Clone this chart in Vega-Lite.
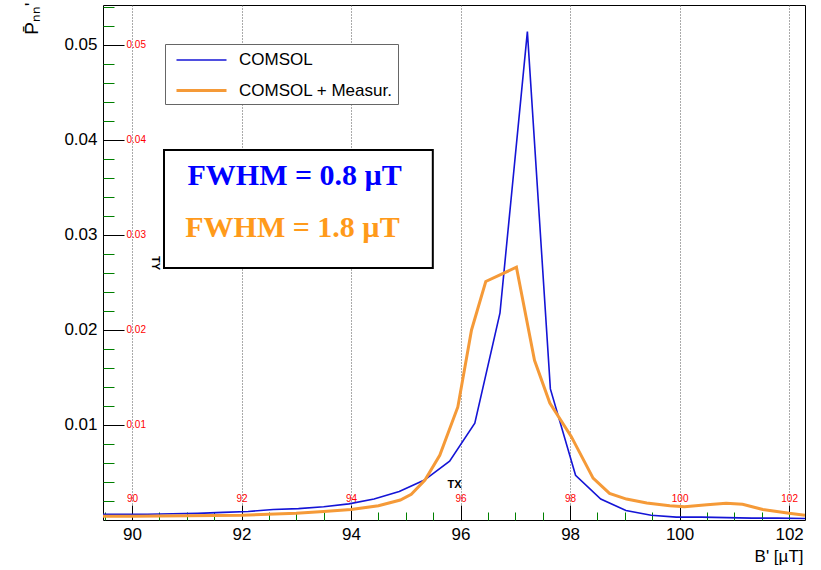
{
  "$schema": "https://vega.github.io/schema/vega-lite/v6.json",
  "autosize": {"type": "none"},
  "padding": {"left": 103, "top": 5, "right": 16, "bottom": 50},
  "width": 702,
  "height": 515,
  "background": "white",
  "config": {
    "view": {"stroke": "#000", "strokeWidth": 1},
    "font": "Liberation Sans",
    "axis": {"labelFont": "Liberation Sans", "titleFont": "Liberation Sans", "labelColor": "#000", "titleColor": "#000", "domain": false, "grid": false},
    "legend": {"orient": "none", "legendX": 62, "legendY": 39, "title": null, "strokeColor": "#666", "fillColor": "white", "padding": 5, "symbolType": "M-2.5,0H2.5", "symbolSize": 400, "symbolOffset": 20, "labelFont": "Liberation Sans", "labelFontSize": 17, "labelOffset": 26, "rowPadding": 11, "labelColor": "#000"}
  },
  "datasets": {
    "curves": [
      {"B": 89.36, "P": 0.0006, "series": "COMSOL"},
      {"B": 89.82, "P": 0.0006, "series": "COMSOL"},
      {"B": 90.28, "P": 0.0006, "series": "COMSOL"},
      {"B": 90.74, "P": 0.00065, "series": "COMSOL"},
      {"B": 91.2, "P": 0.0007, "series": "COMSOL"},
      {"B": 91.66, "P": 0.0008, "series": "COMSOL"},
      {"B": 92.12, "P": 0.0009, "series": "COMSOL"},
      {"B": 92.58, "P": 0.0011, "series": "COMSOL"},
      {"B": 93.04, "P": 0.0012, "series": "COMSOL"},
      {"B": 93.5, "P": 0.0014, "series": "COMSOL"},
      {"B": 93.96, "P": 0.0017, "series": "COMSOL"},
      {"B": 94.42, "P": 0.0022, "series": "COMSOL"},
      {"B": 94.88, "P": 0.003, "series": "COMSOL"},
      {"B": 95.34, "P": 0.0042, "series": "COMSOL"},
      {"B": 95.8, "P": 0.0062, "series": "COMSOL"},
      {"B": 96.26, "P": 0.0102, "series": "COMSOL"},
      {"B": 96.72, "P": 0.0218, "series": "COMSOL"},
      {"B": 97.22, "P": 0.0514, "series": "COMSOL"},
      {"B": 97.64, "P": 0.0138, "series": "COMSOL"},
      {"B": 98.1, "P": 0.0047, "series": "COMSOL"},
      {"B": 98.56, "P": 0.0022, "series": "COMSOL"},
      {"B": 99.02, "P": 0.001, "series": "COMSOL"},
      {"B": 99.48, "P": 0.0005, "series": "COMSOL"},
      {"B": 99.94, "P": 0.0003, "series": "COMSOL"},
      {"B": 100.4, "P": 0.0003, "series": "COMSOL"},
      {"B": 100.86, "P": 0.00025, "series": "COMSOL"},
      {"B": 101.32, "P": 0.0002, "series": "COMSOL"},
      {"B": 101.78, "P": 0.0002, "series": "COMSOL"},
      {"B": 102.29, "P": 0.00015, "series": "COMSOL"},
      {"B": 89.47, "P": 0.0004, "series": "COMSOL + Measur."},
      {"B": 90.0, "P": 0.0004, "series": "COMSOL + Measur."},
      {"B": 91.0, "P": 0.00045, "series": "COMSOL + Measur."},
      {"B": 92.0, "P": 0.0005, "series": "COMSOL + Measur."},
      {"B": 93.0, "P": 0.0007, "series": "COMSOL + Measur."},
      {"B": 93.5, "P": 0.0009, "series": "COMSOL + Measur."},
      {"B": 94.0, "P": 0.0011, "series": "COMSOL + Measur."},
      {"B": 94.5, "P": 0.0015, "series": "COMSOL + Measur."},
      {"B": 94.9, "P": 0.0021, "series": "COMSOL + Measur."},
      {"B": 95.1, "P": 0.0027, "series": "COMSOL + Measur."},
      {"B": 95.35, "P": 0.0042, "series": "COMSOL + Measur."},
      {"B": 95.62, "P": 0.0068, "series": "COMSOL + Measur."},
      {"B": 95.95, "P": 0.0119, "series": "COMSOL + Measur."},
      {"B": 96.2, "P": 0.02, "series": "COMSOL + Measur."},
      {"B": 96.46, "P": 0.0251, "series": "COMSOL + Measur."},
      {"B": 97.02, "P": 0.0266, "series": "COMSOL + Measur."},
      {"B": 97.35, "P": 0.0168, "series": "COMSOL + Measur."},
      {"B": 97.63, "P": 0.0123, "series": "COMSOL + Measur."},
      {"B": 98.02, "P": 0.0088, "series": "COMSOL + Measur."},
      {"B": 98.42, "P": 0.0044, "series": "COMSOL + Measur."},
      {"B": 98.72, "P": 0.0028, "series": "COMSOL + Measur."},
      {"B": 99.03, "P": 0.0022, "series": "COMSOL + Measur."},
      {"B": 99.4, "P": 0.0018, "series": "COMSOL + Measur."},
      {"B": 99.82, "P": 0.0015, "series": "COMSOL + Measur."},
      {"B": 100.09, "P": 0.0014, "series": "COMSOL + Measur."},
      {"B": 100.5, "P": 0.0016, "series": "COMSOL + Measur."},
      {"B": 100.85, "P": 0.00176, "series": "COMSOL + Measur."},
      {"B": 101.15, "P": 0.00165, "series": "COMSOL + Measur."},
      {"B": 101.52, "P": 0.0011, "series": "COMSOL + Measur."},
      {"B": 102.0, "P": 0.0007, "series": "COMSOL + Measur."},
      {"B": 102.29, "P": 0.0005, "series": "COMSOL + Measur."}
    ]
  },
  "resolve": {"axis": {"x": "independent", "y": "independent"}},
  "layer": [
    {
      "data": {"name": "curves"},
      "transform": [{"filter": "datum.series === 'COMSOL'"}],
      "mark": {"type": "line", "clip": true},
      "encoding": {
        "x": {"field": "B", "type": "quantitative", "scale": {"domain": [89.47, 102.29], "nice": false, "zero": false},
          "axis": {"orient": "bottom", "values": [90, 92, 94, 96, 98, 100, 102], "ticks": false, "grid": true, "gridDash": [1, 2], "gridColor": "#555", "gridWidth": 1, "labelFontSize": 17, "labelPadding": 6, "labelFlush": false,
            "title": "B' [µT]", "titleFontSize": 17, "titleFontWeight": "normal", "titleAnchor": "end", "titleAlign": "right", "titleX": 700, "titleY": 41, "titleBaseline": "alphabetic"}},
        "y": {"field": "P", "type": "quantitative", "scale": {"domain": [0, 0.0542], "nice": false},
          "axis": {"orient": "left", "values": [0.01, 0.02, 0.03, 0.04, 0.05], "format": ".2f", "ticks": false, "labelFontSize": 17, "labelPadding": 6,
            "title": "P̄ₙₙ'", "titleFontSize": 19, "titleFontWeight": "normal", "titleAngle": -90, "titleAlign": "right", "titleBaseline": "alphabetic", "titleX": -66, "titleY": -3}},
        "color": {"field": "series", "type": "nominal", "scale": {"domain": ["COMSOL", "COMSOL + Measur."], "range": ["#1414d6", "#f59a38"]}},
        "strokeWidth": {"field": "series", "type": "nominal", "scale": {"domain": ["COMSOL", "COMSOL + Measur."], "range": [1.6, 3]}}
      }
    },
    {
      "data": {"name": "curves"},
      "transform": [{"filter": "datum.series !== 'COMSOL'"}],
      "mark": {"type": "line", "clip": true},
      "encoding": {
        "x": {"field": "B", "type": "quantitative", "axis": {"orient": "top", "offset": -515, "values": [90, 92, 94, 96, 98, 100, 102], "labels": true, "labelColor": "red", "ticks": true, "tickSize": 15, "tickColor": "black", "title": "TX"}},
        "y": {"field": "P", "type": "quantitative", "axis": {"orient": "right", "offset": -702, "values": [0.01, 0.02, 0.03, 0.04, 0.05], "labels": true, "labelColor": "red", "ticks": true, "tickSize": 21, "tickColor": "black", "title": "TY"}},
        "color": {"field": "series", "type": "nominal"},
        "strokeWidth": {"field": "series", "type": "nominal"}
      }
    },
    {
      "data": {"name": "curves"},
      "mark": {"type": "point", "opacity": 0},
      "encoding": {
        "x": {"field": "B", "type": "quantitative", "axis": {"orient": "bottom", "values": [89.5, 90.5, 91, 91.5, 92.5, 93, 93.5, 94.5, 95, 95.5, 96.5, 97, 97.5, 98.5, 99, 99.5, 100.5, 101, 101.5, 102], "labels": true, "labelExpr": "' '", "ticks": true, "tickSize": -8, "tickColor": "green", "title": " "}},
        "y": {"field": "P", "type": "quantitative", "axis": {"orient": "left", "values": [0.002, 0.004, 0.006, 0.008, 0.012, 0.014, 0.016, 0.018, 0.022, 0.024, 0.026, 0.028, 0.032, 0.034, 0.036, 0.038, 0.042, 0.044, 0.046, 0.048, 0.052, 0.054], "labels": true, "labelExpr": "' '", "ticks": true, "tickSize": -11, "tickColor": "green", "title": " "}}
      }
    },
    {
      "data": {"values": [{}]},
      "mark": {"type": "rect", "fill": "white", "stroke": "#000", "strokeWidth": 2},
      "encoding": {
        "x": {"datum": 90.584, "type": "quantitative", "axis": null},
        "x2": {"datum": 95.493},
        "y": {"datum": 0.03895, "type": "quantitative", "axis": null},
        "y2": {"datum": 0.02653}
      }
    },
    {
      "data": {"values": [{}]},
      "mark": {"type": "text", "text": "FWHM = 0.8 µT", "font": "Liberation Serif", "fontWeight": "bold", "fontSize": 30, "color": "#0000ff", "align": "center", "baseline": "middle"},
      "encoding": {
        "x": {"datum": 92.97, "type": "quantitative", "axis": null},
        "y": {"datum": 0.0362, "type": "quantitative", "axis": null}
      }
    },
    {
      "data": {"values": [{}]},
      "mark": {"type": "text", "text": "FWHM = 1.8 µT", "font": "Liberation Serif", "fontWeight": "bold", "fontSize": 30, "color": "#ff9a1a", "align": "center", "baseline": "middle"},
      "encoding": {
        "x": {"datum": 92.93, "type": "quantitative", "axis": null},
        "y": {"datum": 0.0307, "type": "quantitative", "axis": null}
      }
    }
  ]
}
